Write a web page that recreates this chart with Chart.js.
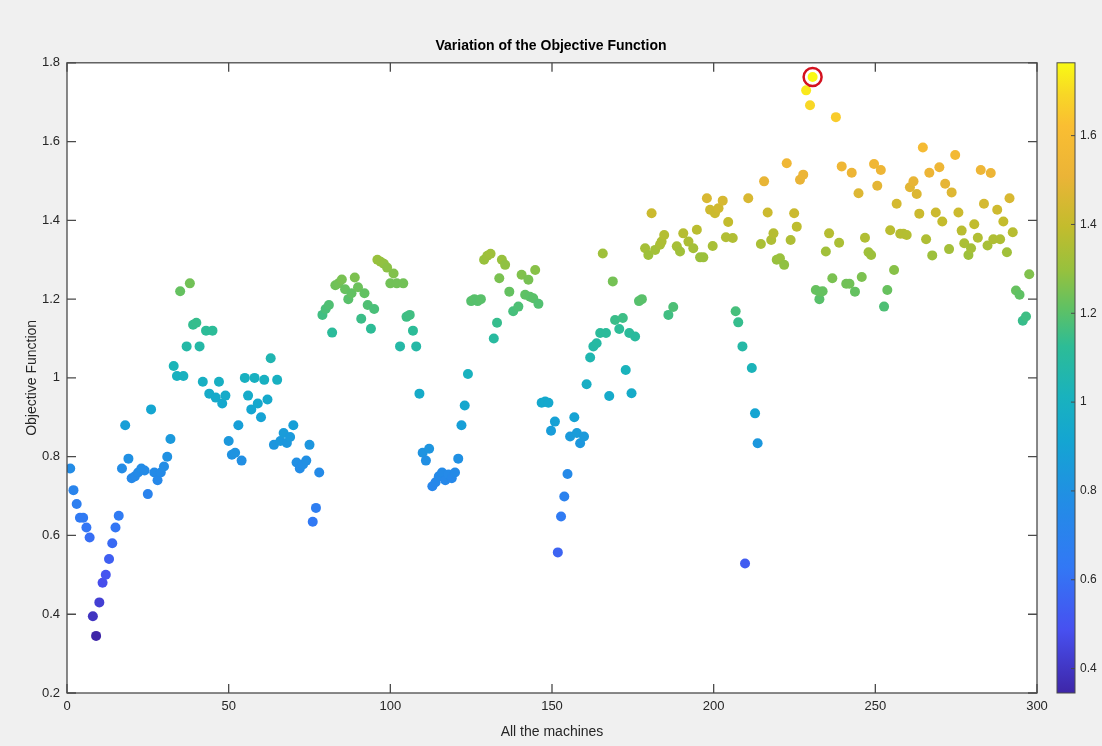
<!DOCTYPE html>
<html>
<head>
<meta charset="utf-8">
<script src="https://cdn.jsdelivr.net/npm/chart.js@4.4.0/dist/chart.umd.min.js"></script>
<style>
  html, body { margin: 0; padding: 0; background: #f0f0f0; }
  #wrap { width: 1102px; height: 746px; }
</style>
</head>
<body>
<div id="wrap"><canvas id="chart" width="1102" height="746"></canvas></div>
<script>
// --- data ---
const machineIds = [
  1,2,3,4,5,6,7,8,9,10,11,12,13,14,15,16,17,18,19,20,
  21,22,23,24,25,26,27,28,29,30,31,32,33,34,35,36,37,38,39,40,
  41,42,43,44,45,46,47,48,49,50,51,52,53,54,55,56,57,58,59,60,
  61,62,63,64,65,66,67,68,69,70,71,72,73,74,75,76,77,78,79,80,
  81,82,83,84,85,86,87,88,89,90,91,92,93,94,95,96,97,98,99,100,
  101,102,103,104,105,106,107,108,109,110,111,112,113,114,115,116,117,118,119,120,
  121,122,123,124,125,126,127,128,129,130,131,132,133,
  133.7,134.5,135.5,136.8,138.0,139.6,140.6,141.7,142.7,143.2,144.2,144.8,145.8,
  146.8,147.9,148.9,149.7,150.9,151.8,152.8,153.8,154.8,155.6,156.9,157.7,158.7,159.9,
  160.7,161.8,162.8,163.8,164.9,165.7,166.7,167.7,168.8,169.5,170.8,171.9,172.8,173.9,
  174.6,175.7,176.9,177.8,178.8,179.8,180.8,181.9,183.4,183.9,184.7,186.0,187.5,188.6,
  189.6,190.6,192.2,193.7,194.8,195.8,196.8,197.9,198.9,199.7,200.4,201.5,202.8,203.8,
  204.5,205.9,206.8,207.6,208.9,209.7,210.7,211.8,212.8,213.6,214.6,215.6,216.7,217.8,
  218.5,219.5,220.5,221.8,222.6,223.8,224.9,225.7,226.7,227.7,228.6,229.8,230.6,231.6,
  232.7,232.9,233.7,234.7,235.7,236.7,237.8,238.8,239.6,241.0,242.0,242.7,243.7,244.8,
  245.8,246.8,247.9,248.7,249.6,250.6,251.7,252.7,253.7,254.6,255.8,256.6,257.7,258.7,
  259.7,260.7,261.8,262.8,263.6,264.7,265.7,266.7,267.6,268.7,269.8,270.7,271.6,272.8,
  273.6,274.7,275.7,276.7,277.5,278.8,279.6,280.6,281.7,282.6,283.6,284.7,285.7,286.5,
  287.7,288.6,289.6,290.7,291.5,292.5,293.5,294.6,295.6,296.6,297.6
];

const objectiveValues = [
  0.77,0.715,0.68,0.645,0.645,0.62,0.595,0.395,0.345,0.43,
  0.48,0.50,0.54,0.58,0.62,0.65,0.77,0.88,0.795,0.745,
  0.75,0.76,0.77,0.765,0.705,0.92,0.76,0.74,0.76,0.775,
  0.80,0.845,1.03,1.005,1.22,1.005,1.08,1.24,1.135,1.14,
  1.08,0.99,1.12,0.96,1.12,0.95,0.99,0.935,0.955,0.84,
  0.805,0.81,0.88,0.79,1.0,0.955,0.92,1.0,0.935,0.90,
  0.995,0.945,1.05,0.83,0.995,0.84,0.86,0.835,0.85,0.88,
  0.785,0.77,0.78,0.79,0.83,0.635,0.67,0.76,1.16,1.175,
  1.185,1.115,1.235,1.24,1.25,1.225,1.20,1.215,1.255,1.23,
  1.15,1.215,1.185,1.125,1.175,1.30,1.295,1.29,1.28,1.24,
  1.265,1.24,1.08,1.24,1.155,1.16,1.12,1.08,0.96,0.81,
  0.79,0.82,0.725,0.735,0.75,0.76,0.74,0.755,0.745,0.76,
  0.795,0.88,0.93,1.01,1.195,1.20,1.195,1.20,1.30,1.31,
  1.315,1.10,1.14,
  1.253,1.30,1.287,1.219,1.169,1.181,1.262,1.211,1.249,1.206,1.202,1.274,1.188,
  0.937,0.94,0.937,0.866,0.889,0.557,0.648,0.699,0.756,0.851,0.90,0.86,0.834,0.851,
  0.984,1.052,1.08,1.088,1.114,1.316,1.114,0.954,1.245,1.147,1.124,1.152,1.02,1.114,
  0.961,1.105,1.195,1.20,1.329,1.312,1.418,1.325,1.338,1.346,1.363,1.16,1.18,1.334,
  1.321,1.367,1.346,1.329,1.376,1.306,1.306,1.456,1.427,1.335,1.418,1.431,1.45,1.357,
  1.396,1.355,1.169,1.141,1.08,0.529,1.456,1.025,0.91,0.834,1.34,1.499,1.42,1.35,
  1.367,1.30,1.304,1.287,1.545,1.35,1.418,1.384,1.503,1.516,1.73,1.692,1.764,1.223,
  1.20,1.219,1.22,1.321,1.367,1.253,1.662,1.343,1.537,1.239,1.239,1.521,1.219,1.469,
  1.256,1.356,1.319,1.312,1.543,1.488,1.528,1.181,1.223,1.375,1.274,1.442,1.366,1.366,
  1.363,1.484,1.499,1.467,1.417,1.585,1.352,1.521,1.311,1.42,1.535,1.397,1.493,1.327,
  1.471,1.566,1.42,1.374,1.342,1.312,1.329,1.39,1.356,1.528,1.442,1.336,1.52,1.352,
  1.427,1.352,1.397,1.319,1.456,1.37,1.222,1.211,1.145,1.156,1.263
];

const xTickStep = 50;
const yTickStep = 0.2;
const colorbarStep = 0.2;

// parula-like colormap stops: [t, r, g, b]
const parulaStops = [
  [0.00, 62, 38, 168],
  [0.10, 71, 80, 240],
  [0.20, 50, 120, 245],
  [0.30, 35, 140, 230],
  [0.40, 20, 165, 210],
  [0.47, 25, 178, 190],
  [0.55, 45, 188, 150],
  [0.61, 95, 193, 100],
  [0.67, 150, 193, 62],
  [0.74, 195, 188, 45],
  [0.82, 235, 180, 55],
  [0.90, 250, 190, 50],
  [0.95, 248, 215, 38],
  [1.00, 249, 250, 20]
];

function parula(t) {
  t = Math.max(0, Math.min(1, t));
  for (let i = 1; i < parulaStops.length; i++) {
    const a = parulaStops[i - 1], b = parulaStops[i];
    if (t <= b[0]) {
      const f = (t - a[0]) / (b[0] - a[0]);
      const c = [1, 2, 3].map(k => Math.round(a[k] + (b[k] - a[k]) * f));
      return `rgb(${c[0]},${c[1]},${c[2]})`;
    }
  }
  return 'rgb(249,250,20)';
}

const cMin = Math.min(...objectiveValues);
const cMax = Math.max(...objectiveValues);
const points = machineIds.map((x, i) => ({ x, y: objectiveValues[i] }));
const pointColors = objectiveValues.map(v => parula((v - cMin) / (cMax - cMin)));
const maxIdx = objectiveValues.indexOf(cMax);

const fontFamily = "'Liberation Sans', Arial, Helvetica, sans-serif";
const axisColor = '#4a4a4a';
const fmt = v => String(+(+v).toFixed(2));

// axes box, inward ticks and colorbar (MATLAB look)
const matlabFrame = {
  id: 'matlabFrame',
  beforeDraw(chart) {
    const { ctx, chartArea: a } = chart;
    ctx.save();
    ctx.fillStyle = '#f0f0f0';
    ctx.fillRect(0, 0, chart.width, chart.height);
    ctx.fillStyle = '#ffffff';
    ctx.fillRect(a.left, a.top, a.right - a.left, a.bottom - a.top);
    ctx.restore();
  },
  afterDraw(chart) {
    const { ctx, chartArea: a, scales } = chart;
    const tl = 9;
    ctx.save();
    ctx.strokeStyle = axisColor;
    ctx.lineWidth = 1.3;
    ctx.strokeRect(a.left, a.top, a.right - a.left, a.bottom - a.top);
    ctx.beginPath();
    scales.x.ticks.forEach(t => {
      const px = scales.x.getPixelForValue(t.value);
      ctx.moveTo(px, a.bottom); ctx.lineTo(px, a.bottom - tl);
      ctx.moveTo(px, a.top); ctx.lineTo(px, a.top + tl);
    });
    scales.y.ticks.forEach(t => {
      const py = scales.y.getPixelForValue(t.value);
      ctx.moveTo(a.left, py); ctx.lineTo(a.left + tl, py);
      ctx.moveTo(a.right, py); ctx.lineTo(a.right - tl, py);
    });
    ctx.stroke();

    // colorbar
    const cb = scales.cbar;
    const x0 = cb.left + 20, w = 18;
    const yTop = cb.getPixelForValue(cMax), yBot = cb.getPixelForValue(cMin);
    const grad = ctx.createLinearGradient(0, yBot, 0, yTop);
    parulaStops.forEach(s => grad.addColorStop(s[0], `rgb(${s[1]},${s[2]},${s[3]})`));
    ctx.fillStyle = grad;
    ctx.fillRect(x0, yTop, w, yBot - yTop);
    ctx.lineWidth = 1;
    ctx.strokeStyle = axisColor;
    ctx.strokeRect(x0, yTop, w, yBot - yTop);
    ctx.beginPath();
    cb.ticks.forEach(t => {
      const py = cb.getPixelForValue(t.value);
      ctx.moveTo(x0 + w, py); ctx.lineTo(x0 + w - 4, py);
    });
    ctx.stroke();
    ctx.restore();
  }
};

new Chart(document.getElementById('chart'), {
  type: 'scatter',
  data: {
    datasets: [
      {
        data: points,
        backgroundColor: pointColors,
        borderWidth: 0,
        pointRadius: 5,
        pointHoverRadius: 5,
        order: 1
      },
      {
        data: [points[maxIdx]],
        backgroundColor: 'rgba(0,0,0,0)',
        borderColor: '#d4121f',
        borderWidth: 2.5,
        pointRadius: 9,
        pointHoverRadius: 9,
        order: 0
      }
    ]
  },
  options: {
    responsive: false,
    animation: false,
    layout: { padding: 0 },
    plugins: {
      legend: { display: false },
      tooltip: { enabled: false },
      title: {
        display: true,
        text: 'Variation of the Objective Function',
        color: '#000000',
        font: { family: fontFamily, size: 14, weight: 'bold' },
        padding: { top: 38, bottom: 8 }
      }
    },
    scales: {
      x: {
        type: 'linear',
        min: 0, max: 300,
        ticks: { stepSize: xTickStep, padding: 6, color: '#262626', font: { family: fontFamily, size: 13 }, callback: fmt },
        grid: { display: false, drawTicks: false },
        border: { display: false },
        title: { display: true, text: 'All the machines', color: '#262626', font: { family: fontFamily, size: 14 }, padding: { top: 0, bottom: 5 } },
        afterFit(s) { s.height = 53; }
      },
      y: {
        min: 0.2, max: 1.8,
        ticks: { stepSize: yTickStep, padding: 7, color: '#262626', font: { family: fontFamily, size: 13 }, callback: fmt },
        grid: { display: false, drawTicks: false },
        border: { display: false },
        title: { display: true, text: 'Objective Function', color: '#262626', font: { family: fontFamily, size: 14 }, padding: { top: 24, bottom: 0 } },
        afterFit(s) { s.width = 67; }
      },
      cbar: {
        position: 'right',
        min: cMin, max: cMax,
        ticks: { stepSize: colorbarStep, includeBounds: false, padding: 43, color: '#262626', font: { family: fontFamily, size: 12 }, callback: fmt },
        grid: { display: false, drawTicks: false },
        border: { display: false },
        afterFit(s) { s.width = 65; }
      }
    }
  },
  plugins: [matlabFrame]
});
</script>
</body>
</html>
